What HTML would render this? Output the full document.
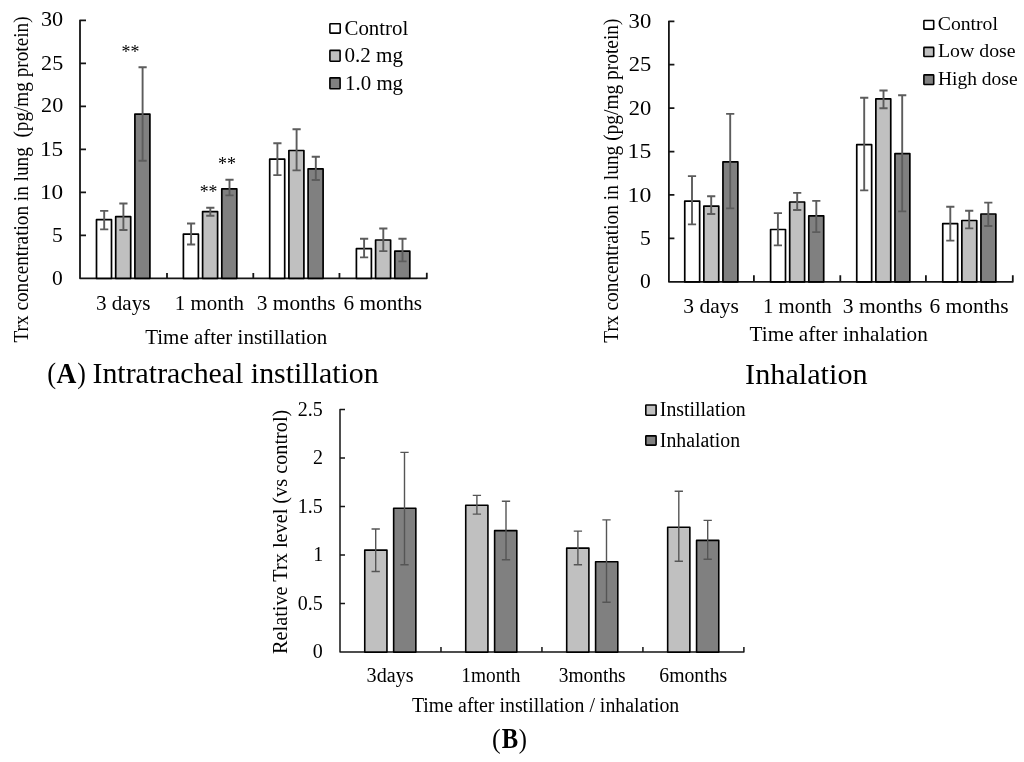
<!DOCTYPE html>
<html><head><meta charset="utf-8"><style>
html,body{margin:0;padding:0;background:#fff;}
svg{display:block;filter:blur(0.45px);}
text{font-family:"Liberation Serif",serif;}
</style></head><body>
<svg width="1024" height="762" viewBox="0 0 1024 762">
<rect width="1024" height="762" fill="#fff"/>
<path d="M86.00 20.30H80.0V278.3H426.8V272.80M80.0 235.30H86.0M80.0 192.30H86.0M80.0 149.30H86.0M80.0 106.30H86.0M80.0 63.30H86.0M167.00 278.3V273.00M253.30 278.3V273.00M339.45 278.3V273.00" stroke="#151515" stroke-width="1.8" fill="none" stroke-linejoin="round" stroke-linecap="butt"/>
<rect x="96.50" y="219.70" width="15.00" height="58.60" fill="#ffffff" stroke="#000" stroke-width="1.7" stroke-linejoin="round"/>
<rect x="115.70" y="216.70" width="15.00" height="61.60" fill="#c0c0c0" stroke="#000" stroke-width="1.7" stroke-linejoin="round"/>
<rect x="134.90" y="114.10" width="15.00" height="164.20" fill="#808080" stroke="#000" stroke-width="1.7" stroke-linejoin="round"/>
<rect x="183.40" y="234.10" width="15.00" height="44.20" fill="#ffffff" stroke="#000" stroke-width="1.7" stroke-linejoin="round"/>
<rect x="202.60" y="211.60" width="15.00" height="66.70" fill="#c0c0c0" stroke="#000" stroke-width="1.7" stroke-linejoin="round"/>
<rect x="221.80" y="188.80" width="15.00" height="89.50" fill="#808080" stroke="#000" stroke-width="1.7" stroke-linejoin="round"/>
<rect x="269.70" y="159.20" width="15.00" height="119.10" fill="#ffffff" stroke="#000" stroke-width="1.7" stroke-linejoin="round"/>
<rect x="288.90" y="150.50" width="15.00" height="127.80" fill="#c0c0c0" stroke="#000" stroke-width="1.7" stroke-linejoin="round"/>
<rect x="308.10" y="168.90" width="15.00" height="109.40" fill="#808080" stroke="#000" stroke-width="1.7" stroke-linejoin="round"/>
<rect x="356.40" y="248.70" width="15.00" height="29.60" fill="#ffffff" stroke="#000" stroke-width="1.7" stroke-linejoin="round"/>
<rect x="375.60" y="240.00" width="15.00" height="38.30" fill="#c0c0c0" stroke="#000" stroke-width="1.7" stroke-linejoin="round"/>
<rect x="394.80" y="251.20" width="15.00" height="27.10" fill="#808080" stroke="#000" stroke-width="1.7" stroke-linejoin="round"/>
<path d="M104.20 210.90V229.40M100.10 210.90H108.30M100.10 229.40H108.30" stroke="#5c5c5c" stroke-width="1.9" fill="none"/>
<path d="M123.40 203.50V230.00M119.30 203.50H127.50M119.30 230.00H127.50" stroke="#5c5c5c" stroke-width="1.9" fill="none"/>
<path d="M142.60 67.20V160.80M138.50 67.20H146.70M138.50 160.80H146.70" stroke="#5c5c5c" stroke-width="1.9" fill="none"/>
<path d="M191.10 223.50V244.50M187.00 223.50H195.20M187.00 244.50H195.20" stroke="#5c5c5c" stroke-width="1.9" fill="none"/>
<path d="M210.30 207.80V215.80M206.20 207.80H214.40M206.20 215.80H214.40" stroke="#5c5c5c" stroke-width="1.9" fill="none"/>
<path d="M229.50 179.80V195.40M225.40 179.80H233.60M225.40 195.40H233.60" stroke="#5c5c5c" stroke-width="1.9" fill="none"/>
<path d="M277.40 143.30V175.10M273.30 143.30H281.50M273.30 175.10H281.50" stroke="#5c5c5c" stroke-width="1.9" fill="none"/>
<path d="M296.60 129.20V170.40M292.50 129.20H300.70M292.50 170.40H300.70" stroke="#5c5c5c" stroke-width="1.9" fill="none"/>
<path d="M315.80 156.70V180.00M311.70 156.70H319.90M311.70 180.00H319.90" stroke="#5c5c5c" stroke-width="1.9" fill="none"/>
<path d="M364.10 238.80V257.40M360.00 238.80H368.20M360.00 257.40H368.20" stroke="#5c5c5c" stroke-width="1.9" fill="none"/>
<path d="M383.30 228.50V251.10M379.20 228.50H387.40M379.20 251.10H387.40" stroke="#5c5c5c" stroke-width="1.9" fill="none"/>
<path d="M402.50 238.80V261.40M398.40 238.80H406.60M398.40 261.40H406.60" stroke="#5c5c5c" stroke-width="1.9" fill="none"/>
<text x="52.11" y="285.42" font-size="21.5" textLength="10.75" lengthAdjust="spacingAndGlyphs" xml:space="preserve" fill="#000">0</text>
<text x="52.11" y="241.62" font-size="21.5" textLength="10.75" lengthAdjust="spacingAndGlyphs" xml:space="preserve" fill="#000">5</text>
<text x="40.01" y="198.67" font-size="21.5" textLength="23.22" lengthAdjust="spacingAndGlyphs" xml:space="preserve" fill="#000">10</text>
<text x="40.01" y="156.12" font-size="21.5" textLength="23.22" lengthAdjust="spacingAndGlyphs" xml:space="preserve" fill="#000">15</text>
<text x="41.11" y="112.17" font-size="21.5" textLength="22.08" lengthAdjust="spacingAndGlyphs" xml:space="preserve" fill="#000">20</text>
<text x="41.11" y="70.07" font-size="21.5" textLength="22.08" lengthAdjust="spacingAndGlyphs" xml:space="preserve" fill="#000">25</text>
<text x="40.99" y="25.72" font-size="21.5" textLength="22.20" lengthAdjust="spacingAndGlyphs" xml:space="preserve" fill="#000">30</text>
<rect x="329.90" y="23.70" width="10.30" height="9.45" fill="#ffffff" stroke="#000" stroke-width="1.6" rx="0.6"/>
<rect x="329.90" y="50.40" width="10.20" height="10.80" fill="#c0c0c0" stroke="#000" stroke-width="1.6" rx="0.6"/>
<rect x="329.90" y="77.90" width="10.20" height="10.90" fill="#808080" stroke="#000" stroke-width="1.6" rx="0.6"/>
<text x="344.46" y="34.90" font-size="21.5" textLength="63.86" lengthAdjust="spacingAndGlyphs" xml:space="preserve" fill="#000">Control</text>
<text x="344.46" y="62.40" font-size="21.5" textLength="58.62" lengthAdjust="spacingAndGlyphs" xml:space="preserve" fill="#000">0.2 mg</text>
<text x="345.12" y="89.70" font-size="21.5" textLength="57.95" lengthAdjust="spacingAndGlyphs" xml:space="preserve" fill="#000">1.0 mg</text>
<text x="121.61" y="57.69" font-size="18" textLength="17.89" lengthAdjust="spacingAndGlyphs" xml:space="preserve" fill="#000">**</text>
<text x="199.71" y="197.89" font-size="18" textLength="17.78" lengthAdjust="spacingAndGlyphs" xml:space="preserve" fill="#000">**</text>
<text x="217.90" y="170.49" font-size="18" textLength="18.00" lengthAdjust="spacingAndGlyphs" xml:space="preserve" fill="#000">**</text>
<text x="95.94" y="309.80" font-size="21" textLength="54.55" lengthAdjust="spacingAndGlyphs" xml:space="preserve" fill="#000">3 days</text>
<text x="174.82" y="309.80" font-size="21" textLength="69.11" lengthAdjust="spacingAndGlyphs" xml:space="preserve" fill="#000">1 month</text>
<text x="256.83" y="309.80" font-size="21" textLength="78.81" lengthAdjust="spacingAndGlyphs" xml:space="preserve" fill="#000">3 months</text>
<text x="343.64" y="309.80" font-size="21" textLength="78.49" lengthAdjust="spacingAndGlyphs" xml:space="preserve" fill="#000">6 months</text>
<text x="145.18" y="344.40" font-size="21" textLength="182.12" lengthAdjust="spacingAndGlyphs" xml:space="preserve" fill="#000">Time after instillation</text>
<text transform="translate(28.20,0) rotate(-90)" x="-342.48" y="0" font-size="20.5" textLength="326.06" lengthAdjust="spacingAndGlyphs" xml:space="preserve" fill="#000">Trx concentration in lung  (pg/mg protein)</text>
<path d="M674.40 21.30H668.9V281.8H1012.8V275.30M668.9 238.38H674.4M668.9 194.97H674.4M668.9 151.55H674.4M668.9 108.13H674.4M668.9 64.72H674.4M753.90 281.8V275.30M840.30 281.8V275.30M925.90 281.8V275.30" stroke="#151515" stroke-width="1.8" fill="none" stroke-linejoin="round"/>
<rect x="684.75" y="201.10" width="14.90" height="80.70" fill="#ffffff" stroke="#000" stroke-width="1.7" stroke-linejoin="round"/>
<rect x="703.85" y="206.10" width="14.90" height="75.70" fill="#c0c0c0" stroke="#000" stroke-width="1.7" stroke-linejoin="round"/>
<rect x="722.95" y="161.80" width="14.90" height="120.00" fill="#808080" stroke="#000" stroke-width="1.7" stroke-linejoin="round"/>
<rect x="770.60" y="229.50" width="14.90" height="52.30" fill="#ffffff" stroke="#000" stroke-width="1.7" stroke-linejoin="round"/>
<rect x="789.70" y="202.00" width="14.90" height="79.80" fill="#c0c0c0" stroke="#000" stroke-width="1.7" stroke-linejoin="round"/>
<rect x="808.80" y="215.80" width="14.90" height="66.00" fill="#808080" stroke="#000" stroke-width="1.7" stroke-linejoin="round"/>
<rect x="856.75" y="144.70" width="14.90" height="137.10" fill="#ffffff" stroke="#000" stroke-width="1.7" stroke-linejoin="round"/>
<rect x="875.85" y="98.90" width="14.90" height="182.90" fill="#c0c0c0" stroke="#000" stroke-width="1.7" stroke-linejoin="round"/>
<rect x="894.95" y="153.60" width="14.90" height="128.20" fill="#808080" stroke="#000" stroke-width="1.7" stroke-linejoin="round"/>
<rect x="942.75" y="223.70" width="14.90" height="58.10" fill="#ffffff" stroke="#000" stroke-width="1.7" stroke-linejoin="round"/>
<rect x="961.85" y="220.50" width="14.90" height="61.30" fill="#c0c0c0" stroke="#000" stroke-width="1.7" stroke-linejoin="round"/>
<rect x="980.95" y="214.00" width="14.90" height="67.80" fill="#808080" stroke="#000" stroke-width="1.7" stroke-linejoin="round"/>
<path d="M692.00 176.10V224.40M687.90 176.10H696.10M687.90 224.40H696.10" stroke="#5c5c5c" stroke-width="1.9" fill="none"/>
<path d="M711.20 196.20V214.00M707.10 196.20H715.30M707.10 214.00H715.30" stroke="#5c5c5c" stroke-width="1.9" fill="none"/>
<path d="M730.20 113.90V208.40M726.10 113.90H734.30M726.10 208.40H734.30" stroke="#5c5c5c" stroke-width="1.9" fill="none"/>
<path d="M777.90 213.10V245.40M773.80 213.10H782.00M773.80 245.40H782.00" stroke="#5c5c5c" stroke-width="1.9" fill="none"/>
<path d="M797.20 192.90V210.00M793.10 192.90H801.30M793.10 210.00H801.30" stroke="#5c5c5c" stroke-width="1.9" fill="none"/>
<path d="M816.30 200.90V232.10M812.20 200.90H820.40M812.20 232.10H820.40" stroke="#5c5c5c" stroke-width="1.9" fill="none"/>
<path d="M864.20 97.70V190.40M860.10 97.70H868.30M860.10 190.40H868.30" stroke="#5c5c5c" stroke-width="1.9" fill="none"/>
<path d="M883.50 90.50V108.20M879.40 90.50H887.60M879.40 108.20H887.60" stroke="#5c5c5c" stroke-width="1.9" fill="none"/>
<path d="M902.20 95.30V211.40M898.10 95.30H906.30M898.10 211.40H906.30" stroke="#5c5c5c" stroke-width="1.9" fill="none"/>
<path d="M950.30 206.70V240.60M946.20 206.70H954.40M946.20 240.60H954.40" stroke="#5c5c5c" stroke-width="1.9" fill="none"/>
<path d="M969.20 210.70V228.40M965.10 210.70H973.30M965.10 228.40H973.30" stroke="#5c5c5c" stroke-width="1.9" fill="none"/>
<path d="M988.30 202.60V226.00M984.20 202.60H992.40M984.20 226.00H992.40" stroke="#5c5c5c" stroke-width="1.9" fill="none"/>
<text x="639.91" y="288.37" font-size="21.5" textLength="10.75" lengthAdjust="spacingAndGlyphs" xml:space="preserve" fill="#000">0</text>
<text x="639.91" y="244.95" font-size="21.5" textLength="10.75" lengthAdjust="spacingAndGlyphs" xml:space="preserve" fill="#000">5</text>
<text x="627.57" y="201.53" font-size="21.5" textLength="23.68" lengthAdjust="spacingAndGlyphs" xml:space="preserve" fill="#000">10</text>
<text x="627.57" y="158.12" font-size="21.5" textLength="23.68" lengthAdjust="spacingAndGlyphs" xml:space="preserve" fill="#000">15</text>
<text x="628.69" y="114.70" font-size="21.5" textLength="22.51" lengthAdjust="spacingAndGlyphs" xml:space="preserve" fill="#000">20</text>
<text x="628.69" y="71.28" font-size="21.5" textLength="22.51" lengthAdjust="spacingAndGlyphs" xml:space="preserve" fill="#000">25</text>
<text x="628.57" y="27.87" font-size="21.5" textLength="22.64" lengthAdjust="spacingAndGlyphs" xml:space="preserve" fill="#000">30</text>
<rect x="923.90" y="20.50" width="9.80" height="8.60" fill="#ffffff" stroke="#000" stroke-width="1.6" rx="0.6"/>
<rect x="923.90" y="47.40" width="9.80" height="9.10" fill="#c0c0c0" stroke="#000" stroke-width="1.6" rx="0.6"/>
<rect x="923.90" y="74.90" width="9.80" height="9.60" fill="#808080" stroke="#000" stroke-width="1.6" rx="0.6"/>
<text x="937.81" y="29.90" font-size="19.7" textLength="60.10" lengthAdjust="spacingAndGlyphs" xml:space="preserve" fill="#000">Control</text>
<text x="938.01" y="57.30" font-size="19.7" textLength="77.61" lengthAdjust="spacingAndGlyphs" xml:space="preserve" fill="#000">Low dose</text>
<text x="938.02" y="85.30" font-size="19.7" textLength="79.53" lengthAdjust="spacingAndGlyphs" xml:space="preserve" fill="#000">High dose</text>
<text x="683.32" y="313.10" font-size="21" textLength="55.59" lengthAdjust="spacingAndGlyphs" xml:space="preserve" fill="#000">3 days</text>
<text x="763.03" y="313.10" font-size="21" textLength="68.70" lengthAdjust="spacingAndGlyphs" xml:space="preserve" fill="#000">1 month</text>
<text x="842.82" y="313.10" font-size="21" textLength="79.63" lengthAdjust="spacingAndGlyphs" xml:space="preserve" fill="#000">3 months</text>
<text x="929.54" y="313.10" font-size="21" textLength="79.11" lengthAdjust="spacingAndGlyphs" xml:space="preserve" fill="#000">6 months</text>
<text x="749.58" y="340.90" font-size="21" textLength="178.16" lengthAdjust="spacingAndGlyphs" xml:space="preserve" fill="#000">Time after inhalation</text>
<text transform="translate(617.60,0) rotate(-90)" x="-342.79" y="0" font-size="20.0" textLength="324.27" lengthAdjust="spacingAndGlyphs" xml:space="preserve" fill="#000">Trx concentration in lung (pg/mg protein)</text>
<path d="M345.00 409.60H340.0V652.1H743.9V647.10M340.0 603.60H345.0M340.0 555.10H345.0M340.0 506.60H345.0M340.0 458.10H345.0M440.98 652.1V647.10M541.95 652.1V647.10M642.92 652.1V647.10" stroke="#151515" stroke-width="1.5" fill="none" stroke-linejoin="round"/>
<rect x="364.75" y="550.10" width="22.20" height="102.00" fill="#c0c0c0" stroke="#000" stroke-width="1.6" stroke-linejoin="round"/>
<rect x="393.65" y="508.30" width="22.20" height="143.80" fill="#808080" stroke="#000" stroke-width="1.6" stroke-linejoin="round"/>
<rect x="465.73" y="505.20" width="22.20" height="146.90" fill="#c0c0c0" stroke="#000" stroke-width="1.6" stroke-linejoin="round"/>
<rect x="494.62" y="530.60" width="22.20" height="121.50" fill="#808080" stroke="#000" stroke-width="1.6" stroke-linejoin="round"/>
<rect x="566.70" y="548.10" width="22.20" height="104.00" fill="#c0c0c0" stroke="#000" stroke-width="1.6" stroke-linejoin="round"/>
<rect x="595.60" y="561.80" width="22.20" height="90.30" fill="#808080" stroke="#000" stroke-width="1.6" stroke-linejoin="round"/>
<rect x="667.67" y="527.20" width="22.20" height="124.90" fill="#c0c0c0" stroke="#000" stroke-width="1.6" stroke-linejoin="round"/>
<rect x="696.57" y="540.40" width="22.20" height="111.70" fill="#808080" stroke="#000" stroke-width="1.6" stroke-linejoin="round"/>
<path d="M375.70 529.00V571.50M371.55 529.00H379.85M371.55 571.50H379.85" stroke="#555" stroke-width="1.4" fill="none"/>
<path d="M404.50 452.40V564.70M400.35 452.40H408.65M400.35 564.70H408.65" stroke="#555" stroke-width="1.4" fill="none"/>
<path d="M476.90 495.40V514.10M472.75 495.40H481.05M472.75 514.10H481.05" stroke="#555" stroke-width="1.4" fill="none"/>
<path d="M506.00 501.20V559.80M501.85 501.20H510.15M501.85 559.80H510.15" stroke="#555" stroke-width="1.4" fill="none"/>
<path d="M577.90 531.10V564.80M573.75 531.10H582.05M573.75 564.80H582.05" stroke="#555" stroke-width="1.4" fill="none"/>
<path d="M606.50 519.90V602.20M602.35 519.90H610.65M602.35 602.20H610.65" stroke="#555" stroke-width="1.4" fill="none"/>
<path d="M678.80 491.20V561.30M674.65 491.20H682.95M674.65 561.30H682.95" stroke="#555" stroke-width="1.4" fill="none"/>
<path d="M707.70 520.40V559.30M703.55 520.40H711.85M703.55 559.30H711.85" stroke="#555" stroke-width="1.4" fill="none"/>
<text x="312.80" y="658.20" font-size="20" textLength="10.00" lengthAdjust="spacingAndGlyphs" xml:space="preserve" fill="#000">0</text>
<text x="297.80" y="609.70" font-size="20" textLength="25.00" lengthAdjust="spacingAndGlyphs" xml:space="preserve" fill="#000">0.5</text>
<text x="313.20" y="561.20" font-size="20" textLength="10.00" lengthAdjust="spacingAndGlyphs" xml:space="preserve" fill="#000">1</text>
<text x="297.80" y="512.70" font-size="20" textLength="25.00" lengthAdjust="spacingAndGlyphs" xml:space="preserve" fill="#000">1.5</text>
<text x="313.10" y="464.20" font-size="20" textLength="10.00" lengthAdjust="spacingAndGlyphs" xml:space="preserve" fill="#000">2</text>
<text x="297.80" y="415.70" font-size="20" textLength="25.00" lengthAdjust="spacingAndGlyphs" xml:space="preserve" fill="#000">2.5</text>
<rect x="645.80" y="405.00" width="10.30" height="10.20" fill="#c0c0c0" stroke="#000" stroke-width="1.6" rx="0.6"/>
<rect x="645.80" y="435.90" width="10.30" height="9.20" fill="#808080" stroke="#000" stroke-width="1.6" rx="0.6"/>
<text x="659.81" y="416.00" font-size="20" textLength="85.95" lengthAdjust="spacingAndGlyphs" xml:space="preserve" fill="#000">Instillation</text>
<text x="659.81" y="446.50" font-size="20" textLength="80.27" lengthAdjust="spacingAndGlyphs" xml:space="preserve" fill="#000">Inhalation</text>
<text x="366.59" y="681.50" font-size="20" textLength="46.97" lengthAdjust="spacingAndGlyphs" xml:space="preserve" fill="#000">3days</text>
<text x="461.26" y="681.50" font-size="20" textLength="59.14" lengthAdjust="spacingAndGlyphs" xml:space="preserve" fill="#000">1month</text>
<text x="558.73" y="681.50" font-size="20" textLength="66.95" lengthAdjust="spacingAndGlyphs" xml:space="preserve" fill="#000">3months</text>
<text x="659.31" y="681.50" font-size="20" textLength="67.87" lengthAdjust="spacingAndGlyphs" xml:space="preserve" fill="#000">6months</text>
<text x="411.90" y="712.30" font-size="20" textLength="267.42" lengthAdjust="spacingAndGlyphs" xml:space="preserve" fill="#000">Time after instillation / inhalation</text>
<text transform="translate(287.00,0) rotate(-90)" x="-653.91" y="0" font-size="20.3" textLength="244.19" lengthAdjust="spacingAndGlyphs" xml:space="preserve" fill="#000">Relative Trx level (vs control)</text>
<text x="47.20" y="383.30" font-size="28.7" textLength="8.88" lengthAdjust="spacingAndGlyphs" xml:space="preserve" fill="#000">(</text>
<text x="77.23" y="383.30" font-size="28.7" textLength="8.58" lengthAdjust="spacingAndGlyphs" xml:space="preserve" fill="#000">)</text>
<text x="56.62" y="383.30" font-size="28.7" font-weight="bold" textLength="19.87" lengthAdjust="spacingAndGlyphs" xml:space="preserve" fill="#000">A</text>
<text x="92.45" y="383.30" font-size="28.7" textLength="286.28" lengthAdjust="spacingAndGlyphs" xml:space="preserve" fill="#000">Intratracheal instillation</text>
<text x="745.14" y="383.70" font-size="28.5" textLength="122.48" lengthAdjust="spacingAndGlyphs" xml:space="preserve" fill="#000">Inhalation</text>
<text x="492.04" y="747.80" font-size="28.2" textLength="8.62" lengthAdjust="spacingAndGlyphs" xml:space="preserve" fill="#000">(</text>
<text x="518.86" y="747.80" font-size="28.2" textLength="8.20" lengthAdjust="spacingAndGlyphs" xml:space="preserve" fill="#000">)</text>
<text x="501.73" y="747.80" font-size="29.0" font-weight="bold" textLength="16.44" lengthAdjust="spacingAndGlyphs" xml:space="preserve" fill="#000">B</text>
</svg>
</body></html>
